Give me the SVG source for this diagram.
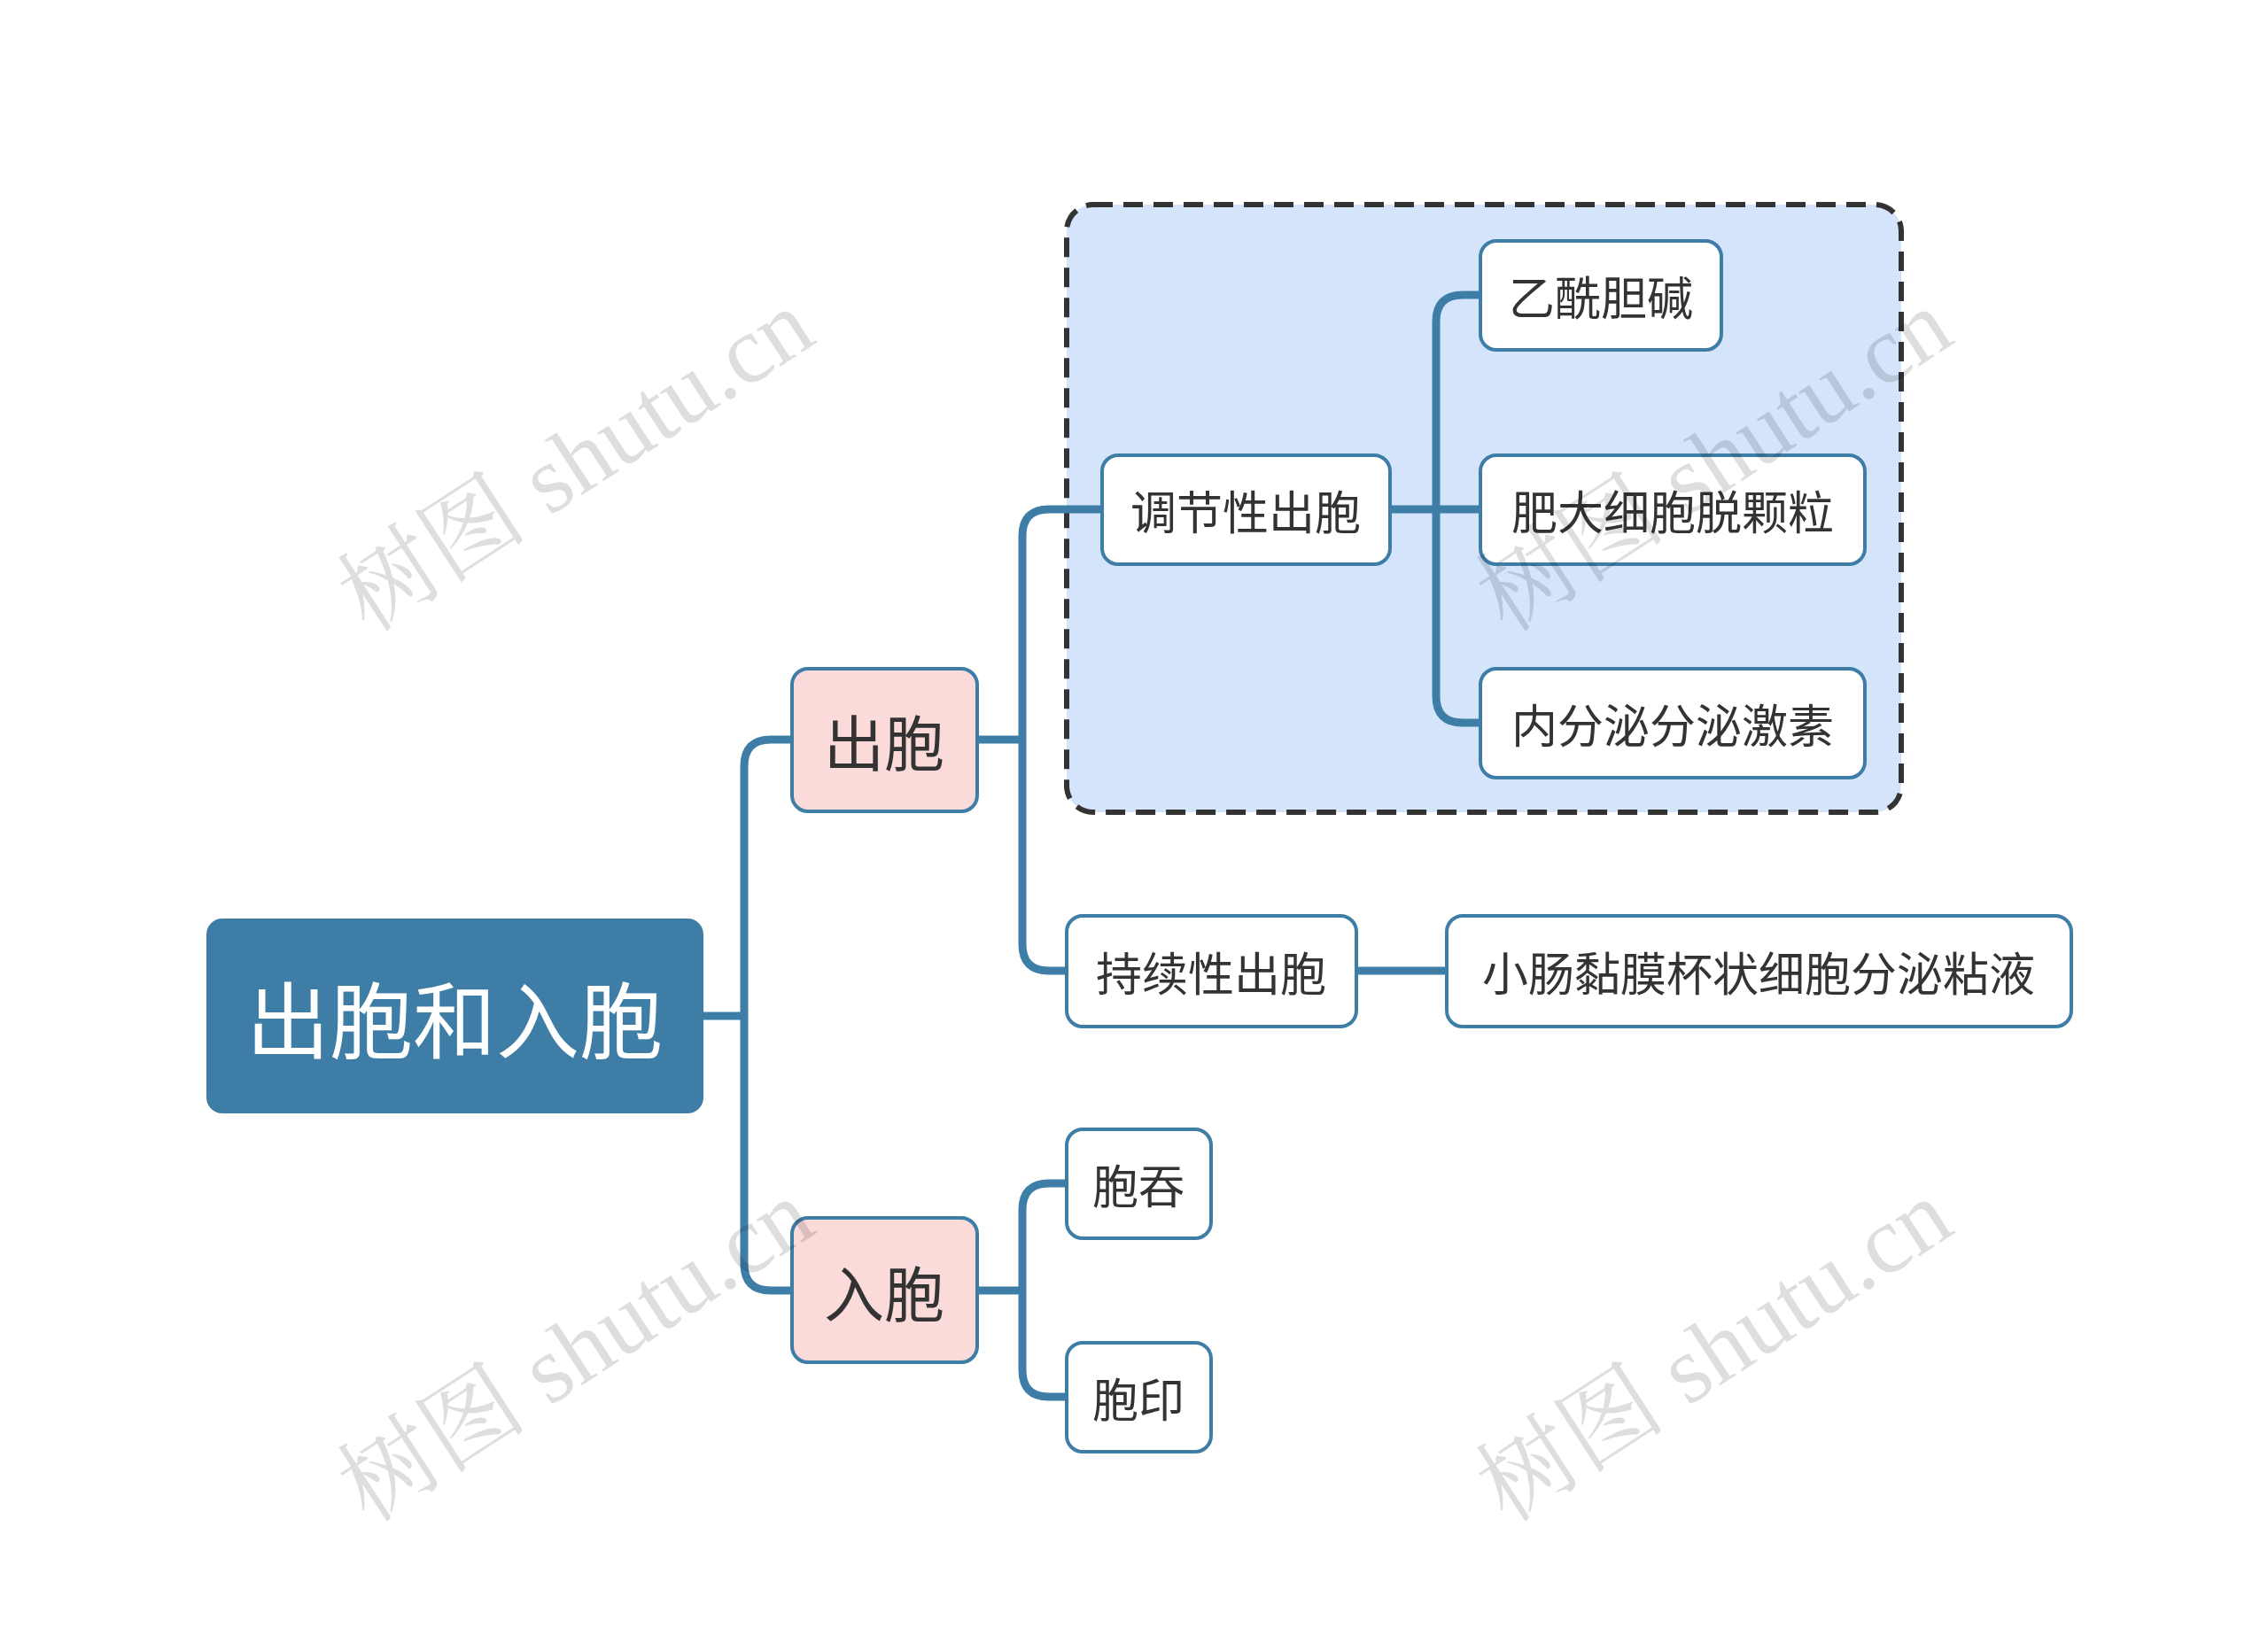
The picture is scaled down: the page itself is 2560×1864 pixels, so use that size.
<svg xmlns="http://www.w3.org/2000/svg" width="2560" height="1864" viewBox="0 0 2560 1864">
<style>
text{font-family:"Noto Sans CJK SC","Noto Sans",sans-serif;text-anchor:middle;dominant-baseline:central}
.n rect{fill:#fff;stroke:#3e7ea6;stroke-width:4}
.n text{font-size:52px;fill:#333}
.p rect{fill:#fbdada;stroke:#3e7ea6;stroke-width:4}
.p text{font-size:68px;fill:#333}
.c path{fill:none;stroke:#3e7ea6;stroke-width:9}
.w{font-family:"Liberation Serif","Noto Serif CJK SC",serif;font-size:108px;fill:#000;fill-opacity:0.13}
</style>
<rect width="2560" height="1864" fill="#fff"/>
<rect x="1204" y="231" width="942" height="686" rx="30" fill="#d4e4fb" stroke="#333" stroke-width="6" stroke-dasharray="22 12"/>
<g class="c">
<path d="M794 1147H840M870 835H894M870 1457H894M870 835Q840 835 840 865V1427Q840 1457 870 1457"/>
<path d="M1103 835H1154M1184 575H1244M1184 1096H1204M1184 575Q1154 575 1154 605V1066Q1154 1096 1184 1096"/>
<path d="M1569 575H1671M1651 333H1671M1651 816H1671M1651 333Q1621 333 1621 363V786Q1621 816 1651 816"/>
<path d="M1531 1096H1633"/>
<path d="M1103 1457H1154M1184 1336H1204M1184 1577H1204M1184 1336Q1154 1336 1154 1366V1547Q1154 1577 1184 1577"/>
</g>
<g id="root"><rect x="233" y="1037" width="561" height="220" rx="18" fill="#3e7ea6"/><text x="513" y="1147" font-size="94" fill="#fff">出胞和入胞</text></g>
<g id="chubao" class="p"><rect x="894" y="755" width="209" height="161" rx="18"/><text x="998" y="835">出胞</text></g>
<g id="rubao" class="p"><rect x="894" y="1375" width="209" height="163" rx="18"/><text x="998" y="1457">入胞</text></g>
<g id="tiaojie" class="n"><rect x="1244" y="514" width="325" height="123" rx="18"/><text x="1406" y="575">调节性出胞</text></g>
<g id="yixian" class="n"><rect x="1671" y="272" width="272" height="123" rx="18"/><text x="1807" y="333">乙酰胆碱</text></g>
<g id="feida" class="n"><rect x="1671" y="514" width="434" height="123" rx="18"/><text x="1888" y="575">肥大细胞脱颗粒</text></g>
<g id="neifen" class="n"><rect x="1671" y="755" width="434" height="123" rx="18"/><text x="1888" y="816">内分泌分泌激素</text></g>
<g id="chixu" class="n"><rect x="1204" y="1034" width="327" height="125" rx="18"/><text x="1367" y="1096">持续性出胞</text></g>
<g id="xiaochang" class="n"><rect x="1633" y="1034" width="705" height="125" rx="18"/><text x="1985" y="1096">小肠黏膜杯状细胞分泌粘液</text></g>
<g id="baotun" class="n"><rect x="1204" y="1275" width="163" height="123" rx="18"/><text x="1285" y="1336">胞吞</text></g>
<g id="baoyin" class="n"><rect x="1204" y="1516" width="163" height="123" rx="18"/><text x="1285" y="1577">胞印</text></g>
<g>
<text class="w" transform="translate(650,520) rotate(-33)">树图 shutu.cn</text>
<text class="w" transform="translate(1935,520) rotate(-33)">树图 shutu.cn</text>
<text class="w" transform="translate(650,1525) rotate(-33)">树图 shutu.cn</text>
<text class="w" transform="translate(1935,1525) rotate(-33)">树图 shutu.cn</text>
</g>
</svg>
